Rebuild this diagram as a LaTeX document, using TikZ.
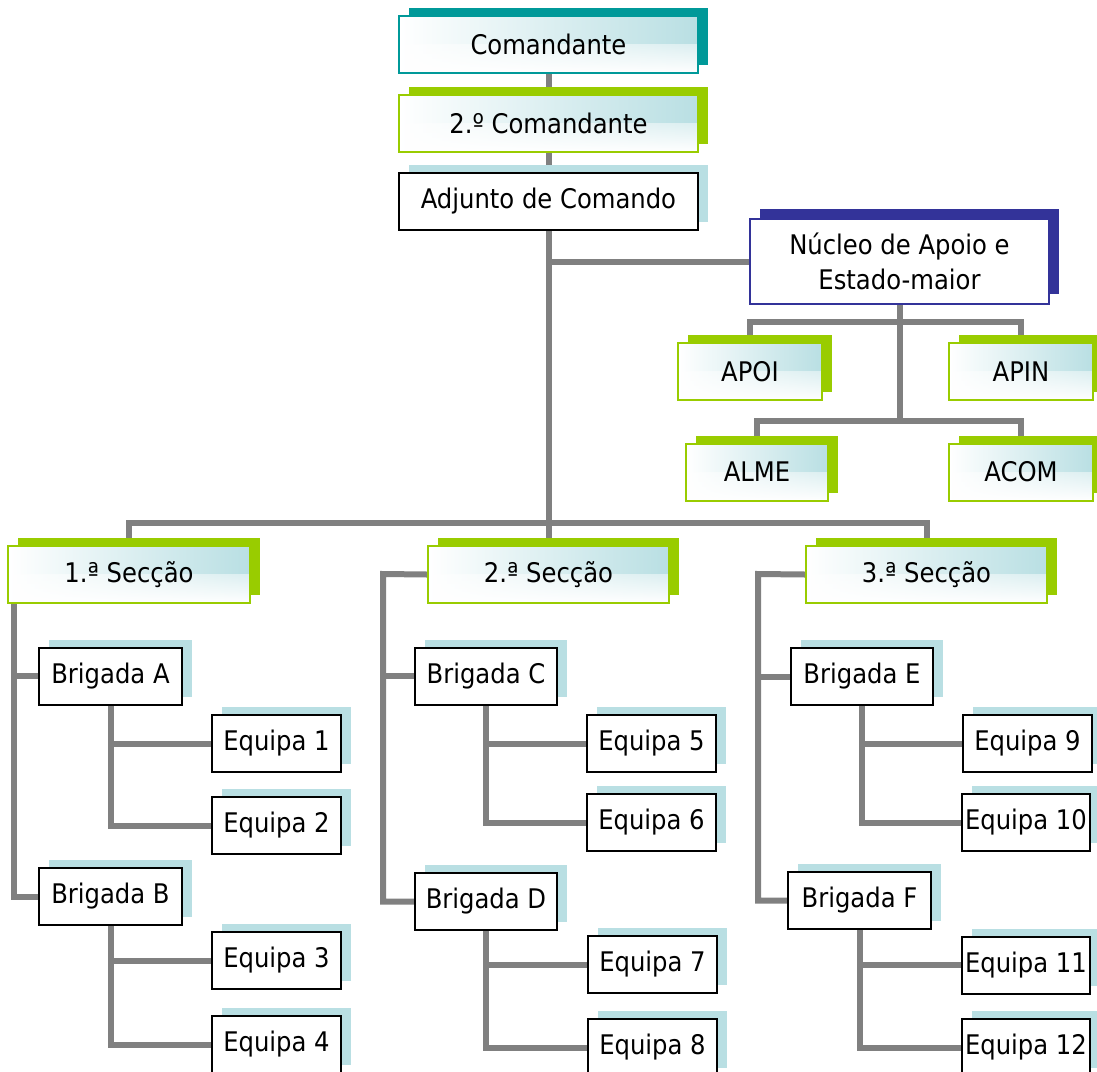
\documentclass[tikz,border=0pt]{standalone}
\usepackage{fontspec}
\setmainfont{DejaVu Sans Condensed}
\usepackage{tikz}
\usetikzlibrary{positioning,shadows,backgrounds,fadings}
\definecolor{tealband}{HTML}{009999}
\definecolor{sprout}{HTML}{99CC00}
\definecolor{navyband}{HTML}{333399}
\definecolor{haze}{HTML}{B9DFE3}
\definecolor{linkgray}{HTML}{808080}
\begin{document}
\begin{tikzpicture}[x=1pt, y=-1pt,
      every node/.style={inner sep=0pt, minimum height=57pt, line width=2pt,
        align=center, font=\fontsize{27}{35}\selectfont},
      backing/.style={general shadow={fill=#1, draw=none, shadow xshift=10pt, shadow yshift=8pt}},
      tintbox/.style={draw=#1, backing=#1, left color=white, right color=haze,
        path picture={\fill[white, path fading=north] (path picture bounding box.south west)
          rectangle (path picture bounding box.east);}},
      whitebox/.style={draw=black, fill=white, backing=haze},
      link/.style={linkgray, line width=6pt}]
    \useasboundingbox (0,0) rectangle (1097,1071);
    \node[tintbox=tealband, minimum width=299pt] (cmd) at (548.5,44.5) {Comandante};
    \node[tintbox=sprout, minimum width=299pt] (cmd2) at (548.5,123) {2.º Comandante};
    \node[whitebox, minimum width=299pt] (adj) at (548.5,201.5) {Adjunto de Comando};
    \node[draw=navyband, fill=white, minimum width=299pt, minimum height=85pt,
          general shadow={fill=navyband, draw=none, shadow xshift=10pt, shadow yshift=10pt}]
          (nuc) at (899.5,261.5) {Núcleo de Apoio e\\Estado-maior};
    \node[tintbox=sprout, minimum width=144pt] (apoi) at (750,371.5) {APOI};
    \node[tintbox=sprout, minimum width=144pt] (apin) at (1021,371.5) {APIN};
    \node[tintbox=sprout, minimum width=142pt] (alme) at (757,472) {ALME};
    \node[tintbox=sprout, minimum width=144pt] (acom) at (1021,472) {ACOM};
    \node[tintbox=sprout, minimum width=242pt] (sec1) at (129,574.5) {1.ª Secção};
    \node[tintbox=sprout, minimum width=241pt] (sec2) at (548.5,574.5) {2.ª Secção};
    \node[tintbox=sprout, minimum width=241pt] (sec3) at (926.5,574.5) {3.ª Secção};
    \node[whitebox, minimum width=143pt] (briA) at (110.5,676) {Brigada A};
    \node[whitebox, minimum width=143pt] (briB) at (110.5,896.5) {Brigada B};
    \node[whitebox, minimum width=142pt] (briC) at (486,676) {Brigada C};
    \node[whitebox, minimum width=142pt] (briD) at (486,901.5) {Brigada D};
    \node[whitebox, minimum width=142pt] (briE) at (862,676.5) {Brigada E};
    \node[whitebox, minimum width=143pt] (briF) at (859.5,900.5) {Brigada F};
    \node[whitebox, minimum width=129pt] (eq1) at (276.5,743.5) {Equipa 1};
    \node[whitebox, minimum width=129pt] (eq2) at (276.5,825.5) {Equipa 2};
    \node[whitebox, minimum width=129pt] (eq3) at (276.5,960.5) {Equipa 3};
    \node[whitebox, minimum width=129pt] (eq4) at (276.5,1044.5) {Equipa 4};
    \node[whitebox, minimum width=129pt] (eq5) at (651.5,743.5) {Equipa 5};
    \node[whitebox, minimum width=129pt] (eq6) at (651.5,822.5) {Equipa 6};
    \node[whitebox, minimum width=129pt] (eq7) at (652.5,964.5) {Equipa 7};
    \node[whitebox, minimum width=129pt] (eq8) at (652.5,1047.5) {Equipa 8};
    \node[whitebox, minimum width=129pt] (eq9) at (1027.5,743.5) {Equipa 9};
    \node[whitebox, minimum width=128pt] (eq10) at (1026,822.5) {Equipa 10};
    \node[whitebox, minimum width=128pt] (eq11) at (1026,965) {Equipa 11};
    \node[whitebox, minimum width=128pt] (eq12) at (1026,1047.5) {Equipa 12};
    \coordinate (bus) at (548.5,523);
    \coordinate (s2) at (383,574);
    \coordinate (s3) at (758,574);
    \begin{pgfonlayer}{background}
      \draw[link] (cmd.south) -- (cmd2.north);
      \draw[link] (cmd2.south) -- (adj.north);
      \draw[link] (adj.south) -- (bus);
      \draw[link] (adj.south |- nuc.west) -- (nuc.west);
      \draw[link] (nuc.south) -- ++(0,118);
      \draw[link] (apoi.north) -- ++(0,-20) -| (apin.north);
      \draw[link] (alme.north) -- ++(0,-22) -| (acom.north);
      \draw[link] (sec1.north) |- (bus) -| (sec3.north);
      \draw[link] (bus) -- (sec2.north);
      \draw[link] ([xshift=7pt]sec1.south west) |- (briB.west);
      \draw[link] ([xshift=7pt]sec1.south west) |- (briA.west);
      \draw[link] (sec2.west) -- (s2) |- (briD.west);
      \draw[link] (s2) |- (briC.west);
      \draw[link] (sec3.west) -- (s3) |- (briF.west);
      \draw[link] (s3) |- (briE.west);
      \draw[link] (briA.south) |- (eq2.west);
      \draw[link] (briA.south) |- (eq1.west);
      \draw[link] (briB.south) |- (eq4.west);
      \draw[link] (briB.south) |- (eq3.west);
      \draw[link] (briC.south) |- (eq6.west);
      \draw[link] (briC.south) |- (eq5.west);
      \draw[link] (briD.south) |- (eq8.west);
      \draw[link] (briD.south) |- (eq7.west);
      \draw[link] (briE.south) |- (eq10.west);
      \draw[link] (briE.south) |- (eq9.west);
      \draw[link] (briF.south) |- (eq12.west);
      \draw[link] (briF.south) |- (eq11.west);
    \end{pgfonlayer}
\end{tikzpicture}
\end{document}
